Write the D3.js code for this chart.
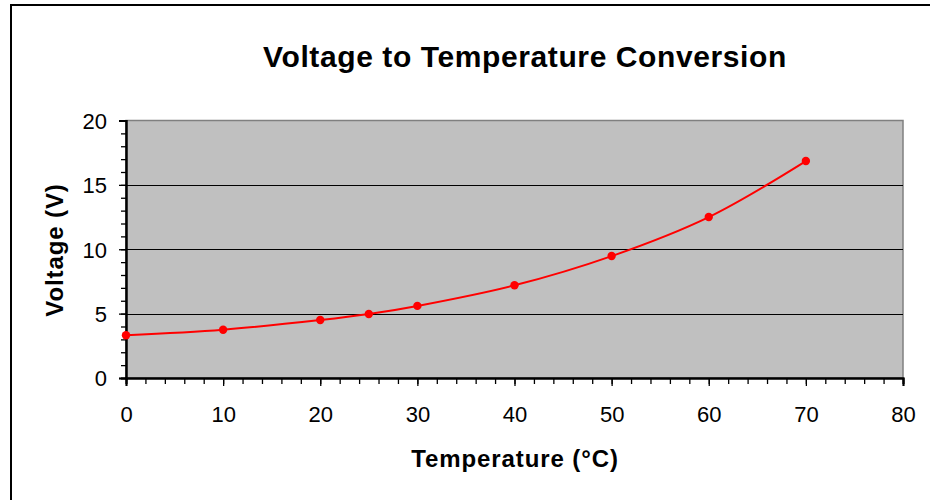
<!DOCTYPE html>
<html><head><meta charset="utf-8">
<script src="https://cdn.jsdelivr.net/npm/d3@7/dist/d3.min.js"></script>
<style>body{margin:0;background:#fff;font-family:"Liberation Sans",Arial,sans-serif}</style>
</head><body><svg id="c" width="930" height="500"></svg>
<script>
const temperatures = [0, 10, 20, 25, 30, 40, 50, 60, 70];
const voltages = [3.32, 3.75, 4.5, 4.97, 5.6, 7.2, 9.47, 12.5, 16.85];
const xTicks = [0, 10, 20, 30, 40, 50, 60, 70, 80];
const yTicks = [0, 5, 10, 15, 20];
const title = "Voltage to Temperature Conversion";
const xTitle = "Temperature (°C)";
const yTitle = "Voltage (V)";

const svg = d3.select("#c");
const L = 126, R = 903, T = 120.5, B = 378;
const x = d3.scaleLinear().domain([0, 80]).range([L, R]);
const y = d3.scaleLinear().domain([0, 20]).range([B, T]);
const FF = "Liberation Sans, Arial, sans-serif";

// outer border
svg.append("rect").attr("x", 11).attr("y", 5).attr("width", 940).attr("height", 520)
  .attr("fill", "none").attr("stroke", "#000").attr("stroke-width", 2);

// plot area
svg.append("rect").attr("x", L).attr("y", T).attr("width", R - L).attr("height", B - T)
  .attr("fill", "#c0c0c0").attr("stroke", "#808080").attr("stroke-width", 1.5);

// gridlines
svg.append("g").selectAll("line").data(yTicks.filter(d => d > 0 && d < 20)).join("line")
  .attr("x1", L).attr("x2", R).attr("y1", d => Math.round(y(d)) + 0.5).attr("y2", d => Math.round(y(d)) + 0.5)
  .attr("stroke", "#000").attr("stroke-width", 1);

// y axis
const yAxisMinor = svg.append("g").attr("transform", `translate(${L},0)`)
  .call(d3.axisLeft(y).tickValues(d3.range(0, 21, 1)).tickSize(5).tickFormat(""));
const yAxis = svg.append("g").attr("transform", `translate(${L},0)`)
  .call(d3.axisLeft(y).tickValues(yTicks).tickSize(7).tickFormat(d3.format("d")));
[yAxisMinor, yAxis].forEach(g => { g.select(".domain").attr("stroke", "#000").attr("stroke-width", 2); g.selectAll("line").attr("stroke", "#000").attr("stroke-width", 1.3); });
yAxis.selectAll("text").attr("font-size", 22).attr("fill", "#000").attr("font-family", FF).attr("dy", "0.36em").attr("x", -19);

// x axis
const xAxisMinor = svg.append("g").attr("transform", `translate(0,${B})`)
  .call(d3.axisBottom(x).tickValues(d3.range(0, 81, 2)).tickSize(6).tickFormat(""));
const xAxis = svg.append("g").attr("transform", `translate(0,${B})`)
  .call(d3.axisBottom(x).tickValues(xTicks).tickSize(8).tickFormat(d3.format("d")));
[xAxisMinor, xAxis].forEach(g => { g.select(".domain").attr("stroke", "#000").attr("stroke-width", 2); g.selectAll("line").attr("stroke", "#000").attr("stroke-width", 1.3); });
xAxis.selectAll("text").attr("font-size", 22).attr("fill", "#000").attr("font-family", FF).attr("dy", null).attr("y", 44);

// line
const data = temperatures.map((t, i) => ({t, v: voltages[i]}));
svg.append("path").datum(data)
  .attr("d", d3.line().x(d => x(d.t)).y(d => y(d.v)).curve(d3.curveCatmullRom.alpha(0.5)))
  .attr("fill", "none").attr("stroke", "#ff0000").attr("stroke-width", 2);
svg.append("g").selectAll("circle").data(data).join("circle")
  .attr("cx", d => x(d.t)).attr("cy", d => y(d.v)).attr("r", 4.2).attr("fill", "#ff0000");

// titles
svg.append("text").attr("x", 525).attr("y", 67).attr("text-anchor", "middle")
  .attr("font-size", 30).attr("font-weight", "bold").attr("letter-spacing", 0.6).text(title);
svg.append("text").attr("x", 515).attr("y", 467).attr("text-anchor", "middle")
  .attr("font-size", 24).attr("font-weight", "bold").attr("letter-spacing", 0.9).text(xTitle);
svg.append("text").attr("transform", "translate(63,250) rotate(-90)").attr("text-anchor", "middle")
  .attr("font-size", 24).attr("font-weight", "bold").attr("letter-spacing", 0.9).text(yTitle);
</script></body></html>
